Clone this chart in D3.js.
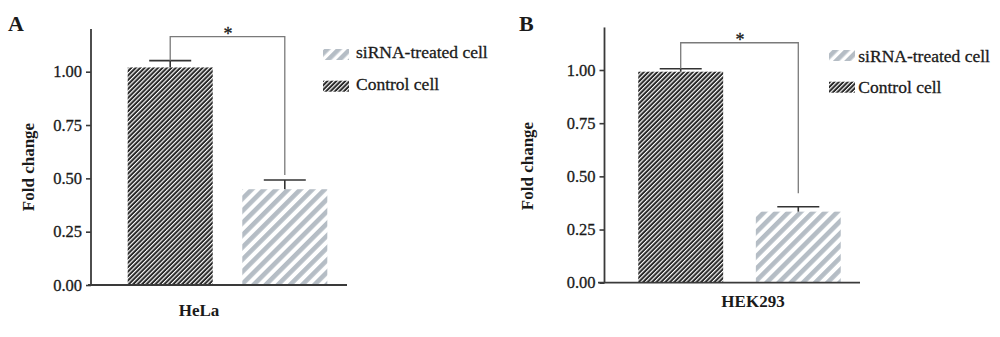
<!DOCTYPE html>
<html>
<head>
<meta charset="utf-8">
<script src="https://cdn.jsdelivr.net/npm/d3@7"></script>
<style>
  html, body { margin: 0; padding: 0; background: #fff; }
  svg { display: block; }
  text { font-family: "Liberation Serif", "DejaVu Serif", serif; fill: #1a1a1a; }
  text.reg { stroke: #1a1a1a; stroke-width: 0.3px; }
</style>
</head>
<body>
<svg id="chart" width="1000" height="337"></svg>
<script>
// ---------------- data ----------------
const panelLetters = ["A", "B"];
const cellLines = ["HeLa", "HEK293"];
const groups = ["Control cell", "siRNA-treated cell"];
const controlValues = [1.02, 0.992];
const controlErrors = [0.032, 0.014];
const sirnaValues = [0.449, 0.334];
const sirnaErrors = [0.043, 0.023];
const bracketLevels = [1.164, 1.128];
const bracketRightEnds = [0.516, 0.42];
const significanceMarks = ["*", "*"];
const yTicks = [0, 0.25, 0.5, 0.75, 1.0];
const yMax = 1.2;
const yLabel = "Fold change";
const legendOrder = ["siRNA-treated cell", "Control cell"];

// ---------------- layout ----------------
const layouts = [
  { axisX: 91, yBottom: 285, yOne: 71.7, xAxis: [88, 347], band: [112.8, 342.2], padIn: 0.258, padOut: 0.13,
    letter: [8, 30.5], cellLabel: [199, 315.5], yLab: [34, 167], legend: [323, 49, 356, 58.3] },
  { axisX: 604.5, yBottom: 282.7, yOne: 70, xAxis: [598, 860], band: [621.8, 857.2], padIn: 0.278, padOut: 0.14,
    letter: [519, 30.5], cellLabel: [753, 307.3], yLab: [533, 166], legend: [829, 50, 858.3, 61.5] }
];

const svg = d3.select("#chart");
const defs = svg.append("defs");

function stripePattern(id, period, stripeW, bg, fg) {
  const p = defs.append("pattern")
    .attr("id", id)
    .attr("patternUnits", "userSpaceOnUse")
    .attr("width", period).attr("height", period)
    .attr("patternTransform", "rotate(45)");
  p.append("rect").attr("width", period).attr("height", period).attr("fill", bg);
  p.append("rect").attr("width", stripeW).attr("height", period).attr("fill", fg);
}
stripePattern("darkStripe", 3.15, 1.15, "#282828", "#ffffff");
stripePattern("grayStripe", 8.6, 4.6, "#ffffff", "#b5bdc5");
stripePattern("grayStripeSmall", 8.0, 4.6, "#ffffff", "#b5bdc5");

const fills = { "Control cell": "url(#darkStripe)", "siRNA-treated cell": "url(#grayStripe)" };
const legendFills = { "Control cell": "url(#darkStripe)", "siRNA-treated cell": "url(#grayStripeSmall)" };

panelLetters.forEach((letter, i) => {
  const L = layouts[i];
  const g = svg.append("g");

  const y = d3.scaleLinear()
    .domain([0, 1])
    .range([L.yBottom, L.yOne]);
  const x = d3.scaleBand()
    .domain(groups)
    .range(L.band)
    .paddingInner(L.padIn)
    .paddingOuter(L.padOut);

  const values = { "Control cell": controlValues[i], "siRNA-treated cell": sirnaValues[i] };
  const errors = { "Control cell": controlErrors[i], "siRNA-treated cell": sirnaErrors[i] };

  // bars
  g.selectAll("rect.bar").data(groups).join("rect")
    .attr("class", "bar")
    .attr("x", d => x(d))
    .attr("width", x.bandwidth())
    .attr("y", d => y(values[d]))
    .attr("height", d => y(0) - y(values[d]))
    .attr("fill", d => fills[d]);

  // error bars
  const eb = g.selectAll("g.err").data(groups).join("g").attr("class", "err")
    .attr("stroke", "#333").attr("stroke-width", 1.6);
  eb.append("line")
    .attr("x1", d => x(d) + x.bandwidth() / 2).attr("x2", d => x(d) + x.bandwidth() / 2)
    .attr("y1", d => y(values[d])).attr("y2", d => y(values[d] + errors[d]));
  eb.append("line")
    .attr("x1", d => x(d) + x.bandwidth() / 2 - 21).attr("x2", d => x(d) + x.bandwidth() / 2 + 21)
    .attr("y1", d => y(values[d] + errors[d])).attr("y2", d => y(values[d] + errors[d]));

  // y axis
  const yAxis = d3.axisLeft(y)
    .tickValues(yTicks)
    .tickSize(5)
    .tickSizeOuter(0)
    .tickPadding(4)
    .tickFormat(d3.format(".2f"));
  const ya = g.append("g").attr("transform", `translate(${L.axisX},0)`).call(yAxis);
  ya.select(".domain").remove();
  ya.selectAll(".tick line").attr("stroke", "#3a3a3a").attr("stroke-width", 1.6);
  ya.selectAll(".tick text")
    .attr("class", "reg")
    .attr("font-family", "'Liberation Serif', serif")
    .attr("font-size", 16.5)
    .attr("fill", "#1a1a1a");
  g.append("line")
    .attr("x1", L.axisX).attr("x2", L.axisX)
    .attr("y1", y(0)).attr("y2", y(yMax))
    .attr("stroke", "#3a3a3a").attr("stroke-width", 1.8);
  // x axis baseline
  g.append("line")
    .attr("x1", L.xAxis[0]).attr("x2", L.xAxis[1])
    .attr("y1", y(0)).attr("y2", y(0))
    .attr("stroke", "#3a3a3a").attr("stroke-width", 1.8);

  // significance bracket
  const cx0 = x(groups[0]) + x.bandwidth() / 2;
  const cx1 = x(groups[1]) + x.bandwidth() / 2;
  const top0 = controlValues[i] + controlErrors[i];
  g.append("path")
    .attr("d", `M${cx0},${y(top0)}V${y(bracketLevels[i])}H${cx1}V${y(bracketRightEnds[i])}`)
    .attr("fill", "none").attr("stroke", "#7a7a7a").attr("stroke-width", 1.3);
  g.append("text")
    .attr("class", "reg")
    .attr("x", (cx0 + cx1) / 2 + 0.5)
    .attr("y", y(bracketLevels[i]) + 3)
    .attr("text-anchor", "middle")
    .attr("font-size", 18)
    .text(significanceMarks[i]);

  // panel letter
  g.append("text")
    .attr("x", L.letter[0]).attr("y", L.letter[1])
    .attr("font-size", 22).attr("font-weight", "bold")
    .text(letter);

  // x category label
  g.append("text")
    .attr("x", L.cellLabel[0]).attr("y", L.cellLabel[1])
    .attr("text-anchor", "middle")
    .attr("font-size", 17).attr("font-weight", "bold")
    .text(cellLines[i]);

  // y label
  g.append("text")
    .attr("transform", `translate(${L.yLab[0]},${L.yLab[1]}) rotate(-90)`)
    .attr("text-anchor", "middle")
    .attr("font-size", 17).attr("font-weight", "bold")
    .text(yLabel);

  // legend
  const lg = g.append("g");
  legendOrder.forEach((name, k) => {
    const dy = k * 31.7;
    lg.append("rect")
      .attr("x", L.legend[0]).attr("y", L.legend[1] + dy)
      .attr("width", 26).attr("height", 11)
      .attr("fill", legendFills[name]);
    lg.append("text")
      .attr("class", "reg")
      .attr("x", L.legend[2]).attr("y", L.legend[3] + dy)
      .attr("font-size", 17.5)
      .text(name);
  });
});
</script>
</body>
</html>
